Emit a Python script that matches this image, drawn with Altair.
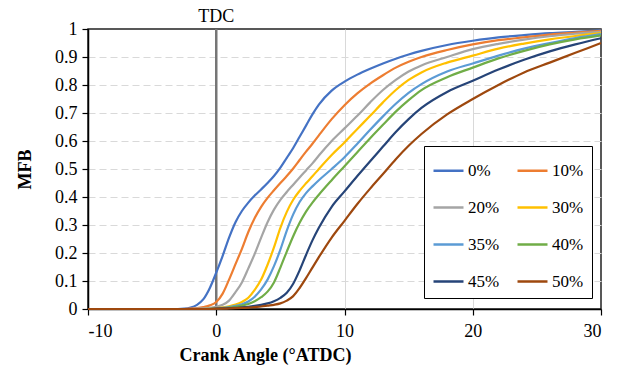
import altair as alt
import pandas as pd

FONT = "Liberation Serif"

crank_angle = [-10, -3, -2.5, -2, -1.5, -1, -0.5, 0, 0.5, 1, 1.5, 2, 2.5, 3, 3.5, 4, 4.5, 5, 5.5,
               6, 6.5, 7, 7.5, 8, 9, 10, 11, 12, 13, 14, 15, 16, 18, 20, 22, 24, 26, 28, 30]

mfb_0 = [0, 0, 0.001, 0.005, 0.015, 0.035, 0.075, 0.13, 0.19, 0.255, 0.31, 0.35, 0.38, 0.405, 0.427,
         0.45, 0.475, 0.505, 0.54, 0.575, 0.615, 0.655, 0.695, 0.73, 0.78, 0.812, 0.837, 0.858, 0.877,
         0.894, 0.909, 0.922, 0.943, 0.958, 0.97, 0.978, 0.985, 0.99, 0.995]
mfb_10 = [0, 0, 0, 0.001, 0.003, 0.007, 0.013, 0.025, 0.055, 0.105, 0.16, 0.215, 0.275, 0.325, 0.365,
          0.397, 0.424, 0.45, 0.475, 0.502, 0.532, 0.562, 0.59, 0.62, 0.678, 0.728, 0.77, 0.805, 0.835,
          0.862, 0.883, 0.9, 0.925, 0.945, 0.96, 0.97, 0.98, 0.987, 0.993]
mfb_20 = [0, 0, 0, 0, 0.001, 0.002, 0.004, 0.008, 0.015, 0.03, 0.06, 0.095, 0.145, 0.197, 0.255,
          0.31, 0.355, 0.39, 0.418, 0.444, 0.47, 0.495, 0.52, 0.548, 0.6, 0.645, 0.69, 0.738, 0.782,
          0.818, 0.848, 0.87, 0.9, 0.928, 0.947, 0.962, 0.974, 0.983, 0.99]
mfb_30 = [0, 0, 0, 0, 0, 0, 0.001, 0.003, 0.006, 0.01, 0.016, 0.025, 0.04, 0.068, 0.105,
          0.158, 0.22, 0.29, 0.347, 0.39, 0.422, 0.449, 0.474, 0.5, 0.55, 0.595, 0.643, 0.69, 0.738,
          0.782, 0.818, 0.845, 0.88, 0.905, 0.93, 0.948, 0.963, 0.975, 0.985]
mfb_35 = [0, 0, 0, 0, 0, 0, 0.001, 0.002, 0.004, 0.007, 0.011, 0.017, 0.027, 0.044, 0.07,
          0.105, 0.153, 0.212, 0.28, 0.338, 0.382, 0.414, 0.438, 0.46, 0.5, 0.542, 0.59, 0.64, 0.688,
          0.733, 0.772, 0.803, 0.848, 0.877, 0.905, 0.93, 0.95, 0.968, 0.982]
mfb_40 = [0, 0, 0, 0, 0, 0, 0, 0.001, 0.003, 0.005, 0.008, 0.012, 0.018, 0.028, 0.042,
          0.062, 0.095, 0.148, 0.205, 0.26, 0.308, 0.348, 0.38, 0.408, 0.46, 0.51, 0.56, 0.61, 0.658,
          0.705, 0.746, 0.782, 0.828, 0.862, 0.895, 0.922, 0.945, 0.963, 0.977]
mfb_45 = [0, 0, 0, 0, 0, 0, 0, 0.001, 0.002, 0.003, 0.004, 0.006, 0.008, 0.011, 0.015,
          0.02, 0.028, 0.04, 0.058, 0.09, 0.138, 0.193, 0.245, 0.29, 0.365, 0.42, 0.475, 0.528, 0.58,
          0.632, 0.678, 0.718, 0.775, 0.815, 0.855, 0.89, 0.92, 0.945, 0.967]
mfb_50 = [0, 0, 0, 0, 0, 0, 0, 0.001, 0.001, 0.002, 0.003, 0.004, 0.005, 0.007, 0.009,
          0.012, 0.015, 0.02, 0.03, 0.046, 0.075, 0.11, 0.148, 0.185, 0.255, 0.315, 0.375, 0.43, 0.482,
          0.535, 0.583, 0.625, 0.695, 0.75, 0.8, 0.845, 0.88, 0.915, 0.95]

series_labels = ["0%", "10%", "20%", "30%", "35%", "40%", "45%", "50%"]
series_colors = ["#4472C4", "#ED7D31", "#A5A5A5", "#FFC000", "#5B9BD5", "#70AD47", "#264478", "#9E480E"]
series_values = [mfb_0, mfb_10, mfb_20, mfb_30, mfb_35, mfb_40, mfb_45, mfb_50]

x_ticks = [-10, 0, 10, 20, 30]
y_ticks = [0, 0.1, 0.2, 0.3, 0.4, 0.5, 0.6, 0.7, 0.8, 0.9, 1]

rows = []
for i, (label, vals) in enumerate(zip(series_labels, series_values)):
    for ca, v in zip(crank_angle, vals):
        rows.append({"CA": ca, "MFB": v, "Series": label, "idx": i})
df = pd.DataFrame(rows)

tdc_df = pd.DataFrame({"CA": [0], "MFB": [1], "label": ["TDC"]})

x_scale = alt.Scale(domain=[-10, 30], nice=False, zero=False)
y_scale = alt.Scale(domain=[0, 1], nice=False)

x_axis = alt.Axis(
    values=x_ticks, title="Crank Angle (°ATDC)", grid=True,
    gridColor=alt.condition("datum.value == -10 || datum.value == 0 || datum.value == 30",
                            alt.value("transparent"), alt.value("#d9d9d9")),
    gridWidth=1, tickSize=6, labelPadding=7, titlePadding=6, titleX=177,
    titleAnchor="start", titleAlign="center", labelExpr="datum.value + ''",
    labelFont=FONT, titleFont=FONT,
)
y_axis = alt.Axis(
    values=y_ticks, format="~g", title="MFB", grid=True,
    gridColor=alt.condition("datum.value == 0 || datum.value == 1",
                            alt.value("transparent"), alt.value("#d9d9d9")),
    gridWidth=1, gridDash=[7, 4], tickSize=6, labelPadding=5, titlePadding=20,
    labelFont=FONT, titleFont=FONT,
)

rule = alt.Chart(tdc_df).mark_rule(color="#767676", strokeWidth=2.5).encode(
    x=alt.X("CA:Q", scale=x_scale, axis=x_axis)
)

lines = alt.Chart(df).mark_line(interpolate="monotone", strokeWidth=2.2).encode(
    x=alt.X("CA:Q", scale=x_scale, axis=x_axis),
    y=alt.Y("MFB:Q", scale=y_scale, axis=y_axis),
    color=alt.Color(
        "Series:N",
        scale=alt.Scale(domain=series_labels, range=series_colors),
        sort=series_labels,
        legend=alt.Legend(
            title=None, orient="none", legendX=336, legendY=117, columns=2,
            direction="horizontal",
            symbolType="stroke", symbolSize=900, symbolStrokeWidth=2.5,
            labelFont=FONT, labelFontSize=17, labelColor="black", labelOffset=3,
            strokeColor="black", fillColor="white", padding=8, rowPadding=12,
            columnPadding=12,
        ),
    ),
    order=alt.Order("idx:Q"),
)

text = alt.Chart(tdc_df).mark_text(baseline="bottom", dy=-3, font=FONT, fontSize=18,
                                   color="black").encode(
    x=alt.X("CA:Q", scale=x_scale, axis=x_axis),
    y=alt.Y("MFB:Q", scale=y_scale, axis=y_axis),
    text="label:N",
)

chart = alt.layer(rule, lines, text).properties(
    width=513, height=280,
    autosize=alt.AutoSizeParams(type="none"),
    padding={"left": 88, "top": 29, "right": 21, "bottom": 60},
).configure(font=FONT).configure_axis(
    labelFont=FONT, labelFontSize=18, labelColor="black",
    titleFont=FONT, titleFontSize=18, titleFontWeight="bold", titleColor="black",
    domainColor="black", domainWidth=1.5, tickColor="black", tickWidth=1.2,
).configure_legend(labelFont=FONT).configure_view(stroke="#222222", strokeWidth=1.5)

chart.save("out.html", embed_options={"renderer": "svg", "actions": False})
